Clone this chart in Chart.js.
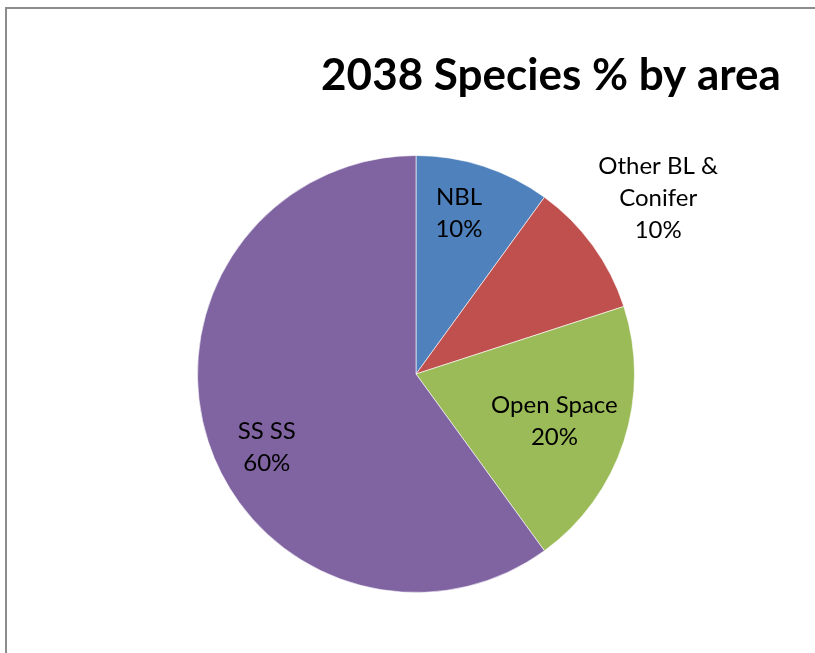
<!DOCTYPE html>
<html>
<head>
  <title>2038 Species % by area</title>
  <script src="https://cdn.jsdelivr.net/npm/chart.js"></script>
  <style>
    html, body { margin: 0; background: #fff; overflow: hidden; width: 815px; height: 653px; }
    #wrap {
      position: absolute; left: 5px; top: 7px; width: 900px; height: 700px;
      border-left: 2px solid #8c8c8c; border-top: 2px solid #8c8c8c;
    }
    #pie { position: absolute; left: 0; top: 0; }
  </style>
</head>
<body>

<div id="wrap"></div>
<canvas id="pie" width="815" height="653"></canvas>

<script>
  const title = '2038 Species % by area';
  const labels = ['NBL', 'Other BL & Conifer', 'Open Space', 'SS SS'];
  const labelLines = [['NBL'], ['Other BL &', 'Conifer'], ['Open Space'], ['SS SS']];
  const values = [10, 10, 20, 60];
  const colors = ['#4F81BD', '#C0504D', '#9BBB59', '#8064A2'];

  // where each label sits, as a share of the radius, plus an angle nudge (deg)
  const labelRadius = [0.76, 1.37, 0.67, 0.76];
  const labelNudge = [-3, 0, 1, -8];

  const FONT = 'Lato, "Open Sans", sans-serif';

  const labelPlugin = {
    id: 'sliceLabels',
    afterDraw(chart) {
      const ctx = chart.ctx;
      const total = values.reduce((a, b) => a + b, 0);
      ctx.save();
      ctx.fillStyle = '#000';
      ctx.textAlign = 'center';
      ctx.textBaseline = 'middle';

      // title
      ctx.font = 'bold 44px ' + FONT;
      ctx.fillText(title, 551, 76);

      ctx.font = '24px ' + FONT;
      chart.getDatasetMeta(0).data.forEach((arc, i) => {
        const p = arc.getProps(['x', 'y', 'startAngle', 'endAngle', 'outerRadius'], true);
        const mid = (p.startAngle + p.endAngle) / 2 + labelNudge[i] * Math.PI / 180;
        const r = p.outerRadius * labelRadius[i];
        const cx = p.x + Math.cos(mid) * r;
        const cy = p.y + Math.sin(mid) * r;
        const lines = labelLines[i].concat([Math.round(values[i] / total * 100) + '%']);
        const lh = 32;
        const y0 = cy - (lines.length - 1) * lh / 2;
        lines.forEach((t, k) => ctx.fillText(t, cx, y0 + k * lh));
      });
      ctx.restore();
    }
  };

  new Chart(document.getElementById('pie'), {
    type: 'pie',
    data: {
      labels: labels,
      datasets: [{
        data: values,
        backgroundColor: colors,
        borderColor: 'rgba(255,255,255,0.6)',
        borderWidth: 1
      }]
    },
    options: {
      responsive: false,
      animation: false,
      layout: { padding: { left: 197, right: 180, top: 155, bottom: 60 } },
      plugins: {
        legend: { display: false },
        title: { display: false },
        tooltip: { enabled: false }
      }
    },
    plugins: [labelPlugin]
  });
</script>

</body>
</html>
